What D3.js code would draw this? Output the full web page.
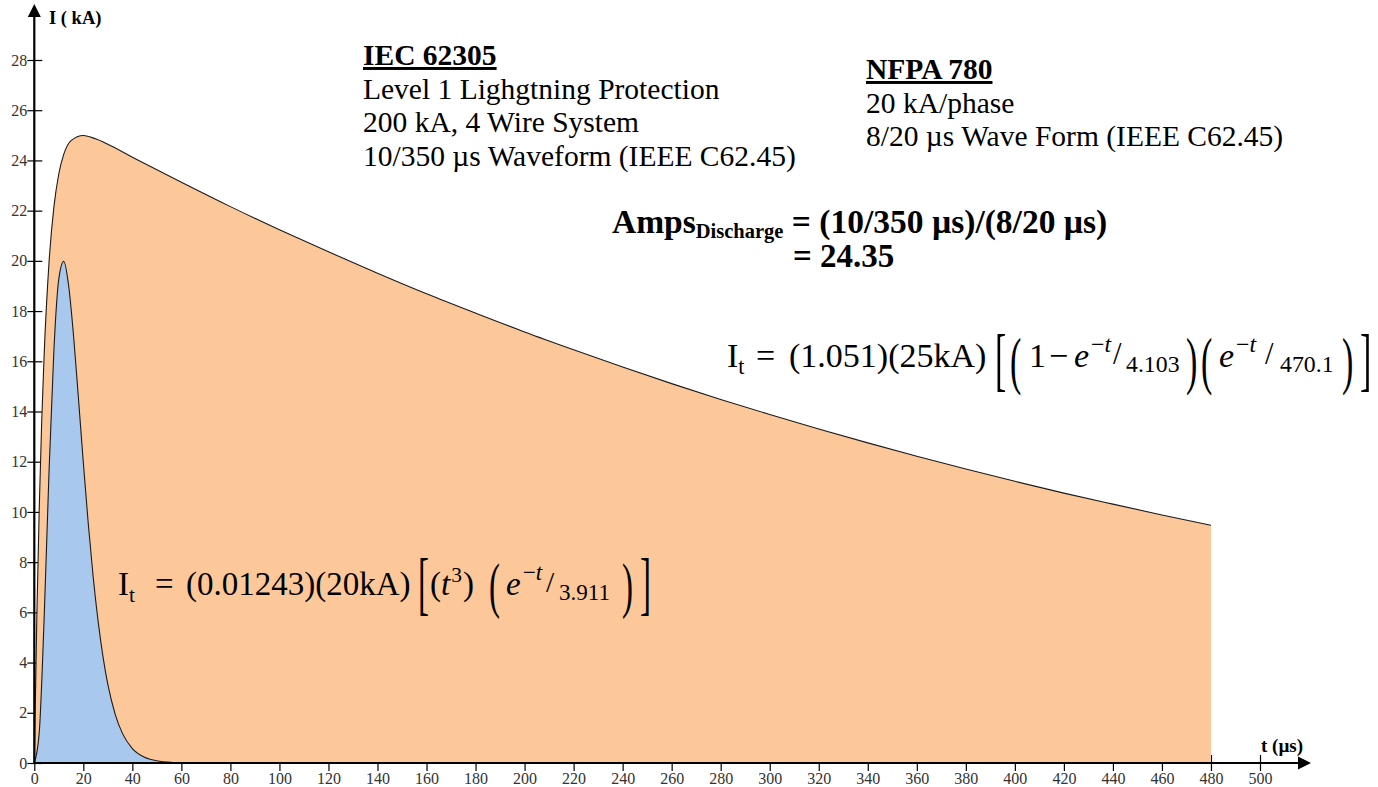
<!DOCTYPE html>
<html>
<head>
<meta charset="utf-8">
<script src="https://cdn.jsdelivr.net/npm/d3@7"></script>
<style>
  html, body { margin: 0; padding: 0; background: #fff; }
  svg { display: block; }
  text { font-family: "Liberation Serif", "Times New Roman", serif; }
</style>
</head>
<body>
<svg id="chart" width="1378" height="787"></svg>
<script>
// ---------- data ----------
const xTicks = [0,20,40,60,80,100,120,140,160,180,200,220,240,260,280,300,320,340,360,380,400,420,440,460,480,500];
const yTicks = [0,2,4,6,8,10,12,14,16,18,20,22,24,26,28];

// 10/350 µs waveform (orange)
const waveT10 = [0,1,2,3,4,6,8,10,12,15,20,25,30,40,60,80,100,120,140,160,180,200,220,240,260,280,300,320,340,360,380,400,420,440,460,480];
const waveI10 = [0,5.67,10.09,13.54,16.22,19.93,22.15,23.47,24.24,24.79,24.99,24.86,24.64,24.13,23.13,22.16,21.24,20.36,19.51,18.69,17.92,17.17,16.46,15.77,15.11,14.48,13.88,13.30,12.75,12.22,11.71,11.22,10.75,10.31,9.88,9.47];

// 8/20 µs waveform (blue)
const waveT8 = [0,2,4,6,8,10,12,14,16,18,20,22,24,26,28,30,33,36,40,45,50,56];
const waveI8 = [0,1.19,5.72,11.58,16.46,19.28,19.98,19.02,17.03,14.54,11.96,9.55,7.43,5.67,4.25,3.13,1.94,1.17,0.575,0.228,0.087,0.026];

const colorOrange = "#fdc899";
const colorBlue = "#a9c8ee";

// ---------- scales ----------
const svg = d3.select("#chart");
const x = d3.scaleLinear().domain([0, 500]).range([34.3, 1260]);
const y = d3.scaleLinear().domain([0, 28]).range([763, 60]);

// ---------- axes ticks ----------
const gx = svg.append("g").attr("transform", `translate(0,${y(0)})`)
  .call(d3.axisBottom(x).tickValues(xTicks).tickSize(8).tickPadding(2));
gx.select(".domain").remove();
gx.selectAll(".tick line").attr("y1", -8).attr("y2", 8).attr("stroke", "#000").attr("stroke-width", 1.2);
gx.selectAll(".tick text").attr("font-size", 16).attr("fill", "#333");

const gy = svg.append("g").attr("transform", `translate(${x(0)},0)`)
  .call(d3.axisLeft(y).tickValues(yTicks).tickSize(7).tickPadding(0));
gy.select(".domain").remove();
gy.selectAll(".tick line").attr("x1", -7).attr("x2", 8).attr("stroke", "#000").attr("stroke-width", 1.2);
gy.selectAll(".tick text").attr("font-size", 16).attr("fill", "#333");

// ---------- areas ----------
const orangeData = waveT10.map((t, i) => ({t, v: waveI10[i]}));
const blueData = waveT8.map((t, i) => ({t, v: waveI8[i]}));

const area = d3.area().x(d => x(d.t)).y0(y(0)).y1(d => y(d.v)).curve(d3.curveMonotoneX);
const line = d3.line().x(d => x(d.t)).y(d => y(d.v)).curve(d3.curveMonotoneX);

svg.append("path").datum(orangeData).attr("d", area).attr("fill", colorOrange);
svg.append("path").datum(orangeData).attr("d", line).attr("fill", "none").attr("stroke", "#1a1a1a").attr("stroke-width", 1.1);
svg.append("path").datum(blueData).attr("d", area).attr("fill", colorBlue);
svg.append("path").datum(blueData).attr("d", line).attr("fill", "none").attr("stroke", "#1a1a1a").attr("stroke-width", 1.1);

// ---------- axis lines with arrows ----------
svg.append("line").attr("x1", x(0)).attr("x2", 1300).attr("y1", y(0)).attr("y2", y(0))
  .attr("stroke", "#000").attr("stroke-width", 2.2);
svg.append("path").attr("d", `M1311,${y(0)} L1298,${y(0)-6.5} L1298,${y(0)+6.5} Z`).attr("fill", "#000");
svg.append("line").attr("x1", x(0)).attr("x2", x(0)).attr("y1", y(0)).attr("y2", 16)
  .attr("stroke", "#000").attr("stroke-width", 2.2);
svg.append("path").attr("d", `M${x(0)},4 L${x(0)-6.5},17 L${x(0)+6.5},17 Z`).attr("fill", "#000");

// axis titles
svg.append("text").attr("x", 49).attr("y", 24).attr("font-size", 18.5).attr("font-weight", "bold").text("I ( kA)");
svg.append("text").attr("x", 1261).attr("y", 752).attr("font-size", 19).attr("font-weight", "bold").text("t (µs)");

// ---------- annotation blocks ----------
function block(x0, y0, lh, head, lines, fs) {
  svg.append("text").attr("x", x0).attr("y", y0).attr("font-size", fs)
    .attr("font-weight", "bold").attr("text-decoration", "underline").text(head);
  lines.forEach((s, i) => {
    svg.append("text").attr("x", x0).attr("y", y0 + lh * (i + 1)).attr("font-size", fs).text(s);
  });
}
block(363, 65, 33.7, "IEC 62305",
  ["Level 1 Lighgtning Protection", "200 kA, 4 Wire System", "10/350 µs Waveform (IEEE C62.45)"], 29.5);
block(866, 79, 33.7, "NFPA 780",
  ["20 kA/phase", "8/20 µs Wave Form (IEEE C62.45)"], 29.5);

// Amps discharge
const amps = svg.append("text").attr("x", 612).attr("y", 233).attr("font-weight", "bold");
amps.append("tspan").attr("font-size", 33.5).text("Amps");
amps.append("tspan").attr("font-size", 20.5).attr("dy", 5).text("Discharge");
amps.append("tspan").attr("font-size", 33.5).attr("dy", -5).text(" = (10/350 µs)/(8/20 µs)");
svg.append("text").attr("x", 793).attr("y", 267).attr("font-weight", "bold").attr("font-size", 33).text("= 24.35");

// ---------- equations (laid out piece by piece) ----------
function equation(base, fs, pieces) {
  let cx = 0;
  pieces.forEach(p => {
    if (p.x !== undefined) cx = p.x;
    const size = (p.f || 1) * fs;
    let t;
    if (p.sy) {
      t = svg.append("text")
        .attr("transform", `translate(${cx},${base + (p.cy || 0)}) scale(1,${p.sy})`)
        .attr("x", 0).attr("y", 0.25 * size).attr("font-size", size).text(p.s);
    } else {
      t = svg.append("text").attr("x", cx).attr("y", base + (p.dy || 0))
        .attr("font-size", size).text(p.s);
    }
    if (p.it) t.attr("font-style", "italic");
    cx += t.node().getComputedTextLength() + (p.gap || 0);
  });
}

equation(367, 34, [
  {s: "I", x: 727}, {s: "t", f: 0.65, dy: 7},
  {s: "=", x: 756},
  {s: "(1.051)(25kA)", x: 789},
  {s: "[", x: 995, sy: 2.05, cy: -1},
  {s: "(", x: 1010, sy: 1.85, cy: -1},
  {s: "1", x: 1029},
  {s: "−", x: 1049},
  {s: "e", x: 1074, it: true, gap: 2},
  {s: "−", f: 0.7, dy: -15}, {s: "t", f: 0.7, dy: -15, it: true},
  {s: "/", x: 1113, f: 0.9, dy: -3},
  {s: "4.103", x: 1126, f: 0.7, dy: 5},
  {s: ")", x: 1186, sy: 1.85, cy: -1},
  {s: "(", x: 1201, sy: 1.85, cy: -1},
  {s: "e", x: 1219, it: true, gap: 2},
  {s: "−", f: 0.7, dy: -15}, {s: "t", f: 0.7, dy: -15, it: true},
  {s: "/", x: 1265, f: 0.9, dy: -3},
  {s: "470.1", x: 1280, f: 0.7, dy: 5},
  {s: ")", x: 1342, sy: 1.85, cy: -1},
  {s: "]", x: 1360, sy: 2.05, cy: -1}
]);

equation(595, 33, [
  {s: "I", x: 118}, {s: "t", f: 0.65, dy: 7},
  {s: "=", x: 155},
  {s: "(0.01243)(20kA)", x: 186},
  {s: "[", x: 418, sy: 2.1, cy: -5},
  {s: "(", x: 430},
  {s: "t", it: true, gap: 1},
  {s: "3", f: 0.65, dy: -13, gap: 1},
  {s: ")"},
  {s: "(", x: 489, sy: 1.85, cy: -4},
  {s: "e", x: 506, it: true, gap: 2},
  {s: "−", f: 0.7, dy: -15}, {s: "t", f: 0.7, dy: -15, it: true},
  {s: "/", x: 546, f: 0.9, dy: -3},
  {s: "3.911", x: 559, f: 0.7, dy: 5},
  {s: ")", x: 622, sy: 1.85, cy: -4},
  {s: "]", x: 640, sy: 2.1, cy: -5}
]);
</script>
</body>
</html>
